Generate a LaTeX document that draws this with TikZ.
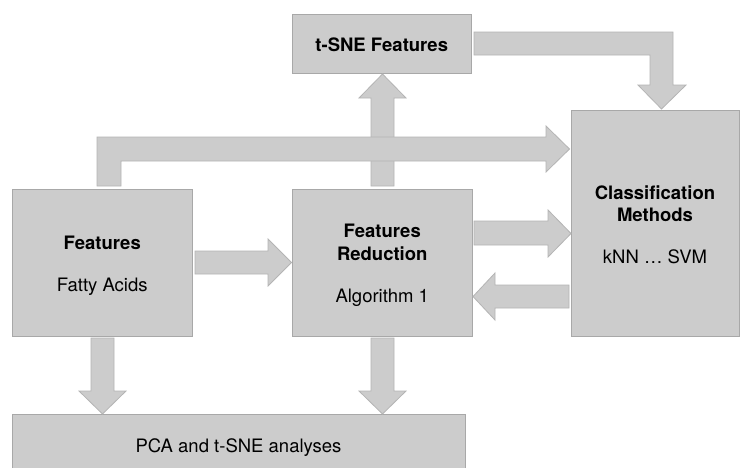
\documentclass[tikz,border=0pt]{standalone}
\usepackage{fontspec}
\setmainfont{TeX Gyre Heros}
\definecolor{boxfill}{RGB}{204,204,204}
\definecolor{boxline}{RGB}{168,168,168}
\definecolor{arrline}{RGB}{180,180,180}
\tikzset{
  box/.style={draw=boxline, fill=boxfill, line width=0.8pt, inner sep=0pt},
  txt/.style={anchor=base, inner sep=0pt, font=\fontsize{18.5}{22}\selectfont},
  btxt/.style={txt, font=\fontsize{18.5}{22}\selectfont\bfseries},
  barrow/.style={draw=arrline, fill=boxfill, line width=0.8pt, line join=miter},
}
\begin{document}
\begin{tikzpicture}[x=1pt,y=-1pt]
\clip (0,0) rectangle (741,467);
\fill[white] (0,0) rectangle (741,467);

% boxes
\node[box, minimum width=180.5pt, minimum height=147.5pt] (feat) at (102.25,262.75) {};
\node[box, minimum width=180.5pt, minimum height=147.5pt] (red) at (382.25,262.75) {};
\node[box, minimum width=179.5pt, minimum height=59pt] (tsne) at (381.75,43.5) {};
\node[box, minimum width=168pt, minimum height=226.5pt] (cls) at (655,223.25) {};
\node[box, minimum width=453pt, minimum height=60pt] (pca) at (238.5,444) {};

% texts
\node[btxt] (featA) at (102.25,249) {Features};
\node[txt]  (featB) at (102.25,291.7) {Fatty Acids};
\node[btxt] (redA) at (382.25,237.3) {Features};
\node[btxt] (redB) at (382.25,260.3) {Reduction};
\node[txt]  (redC) at (382.25,302.7) {Algorithm 1};
\node[btxt] (tsneA) at (381.75,51.7) {t-SNE Features};
\node[btxt] (clsA) at (655,199.3) {Classification};
\node[btxt] (clsB) at (655,221) {Methods};
\node[txt]  (clsC) at (655,263.3) {kNN … SVM};
\node[txt]  (pcaA) at (238.5,452.3) {PCA and t-SNE analyses};

% Features Reduction -> t-SNE Features
\draw[barrow] (371,186) -- (371,98) -- (359,98) -- (382.5,74) -- (406,98) -- (394,98) -- (394,186) -- cycle;
% Features -> Classification (L-shaped)
\draw[barrow] (97,186) -- (97,137) -- (546,137) -- (546,126) -- (569.5,149) -- (546,172) -- (546,161) -- (121,161) -- (121,186) -- cycle;
% Features -> Features Reduction
\draw[barrow] (195,251) -- (268,251) -- (268,239) -- (291.5,262.5) -- (268,286) -- (268,274) -- (195,274) -- cycle;
% t-SNE Features -> Classification
\draw[barrow] (474,32) -- (673,32) -- (673,85) -- (686,85) -- (661.5,109) -- (638,85) -- (650,85) -- (650,55) -- (474,55) -- cycle;
% Features Reduction -> Classification
\draw[barrow] (474,221) -- (548,221) -- (548,210) -- (571,233.5) -- (548,257) -- (548,245) -- (474,245) -- cycle;
% Classification -> Features Reduction
\draw[barrow] (569,285) -- (495,285) -- (495,273) -- (473,296.5) -- (495,320) -- (495,308) -- (569,308) -- cycle;
% Features -> PCA
\draw[barrow] (91,338) -- (91,391) -- (79,391) -- (102.5,414) -- (126,391) -- (114,391) -- (114,338) -- cycle;
% Features Reduction -> PCA
\draw[barrow] (371,338) -- (371,391) -- (359,391) -- (382.5,414) -- (406,391) -- (394,391) -- (394,338) -- cycle;
\end{tikzpicture}
\end{document}
